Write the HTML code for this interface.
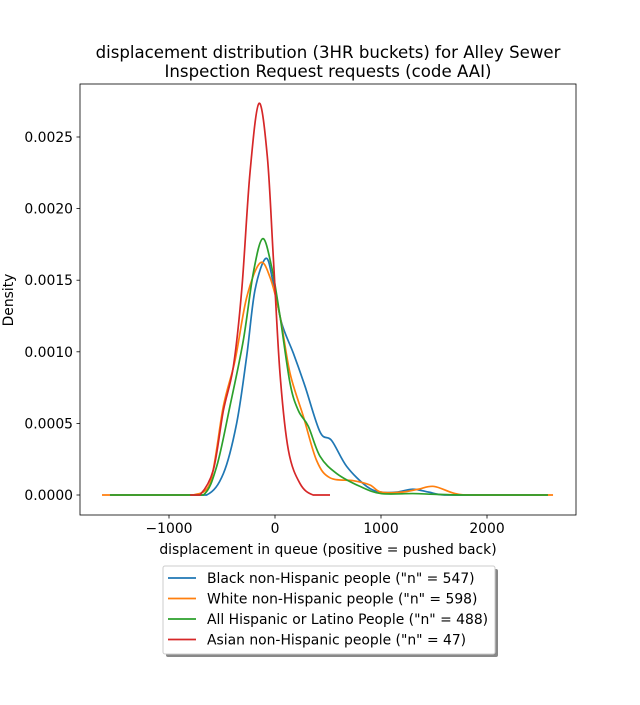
<!DOCTYPE html>
<html><head><meta charset="utf-8"><style>
body{margin:0;background:#fff}
svg text{font-family:"DejaVu Sans","Liberation Sans",sans-serif;fill:#000}
</style></head><body>
<svg width="640" height="700" xmlns="http://www.w3.org/2000/svg">
<g id="plot"></g>
</svg>
<script>
const xTicks=[-1000,0,1000,2000];
const yTicks=[0,0.0005,0.001,0.0015,0.002,0.0025];
const yTickLabels=["0.0000","0.0005","0.0010","0.0015","0.0020","0.0025"];
const seriesNames=['Black non-Hispanic people ("n" = 547)','White non-Hispanic people ("n" = 598)','All Hispanic or Latino People ("n" = 488)','Asian non-Hispanic people ("n" = 47)'];
const blackX=[-1557,-900,-645,-487,-362,-267,-189,-85,-16,63,173,283,425,535,676,865,1000,1150,1300,1450,1600,2000,2575];
const blackY=[0,0,0,0.00015,0.0005,0.00097,0.00143,0.001653,0.00148,0.0012,0.00099,0.00076,0.00044,0.00038,0.0002,0.00006,0.00002,0.00002,0.00004,0.00002,0,0,0];
const whiteX=[-1632,-900,-771,-613,-487,-377,-267,-141,-47,47,142,267,393,519,739,896,1000,1200,1350,1500,1700,1900,2623];
const whiteY=[0,0,0,0.00008,0.00062,0.00094,0.00138,0.00162,0.00152,0.00125,0.00085,0.00055,0.00024,0.00012,0.0001,0.00007,0.00002,0.00002,0.00004,0.00006,0.00001,0,0];
const hispX=[-1557,-900,-676,-550,-425,-299,-205,-116,-31,47,142,220,314,425,582,802,1000,1300,1500,1800,2575];
const hispY=[0,0,0,0.0002,0.00062,0.00108,0.00155,0.00179,0.00159,0.00125,0.00078,0.00059,0.00048,0.00027,0.00015,0.00006,0.00001,0.00001,0.000005,0,0];
const asianX=[-800,-708,-582,-487,-393,-314,-236,-151,-72,-16,47,126,236,360,519];
const asianY=[0,0,0.000175,0.00059,0.000896,0.00143,0.00225,0.002735,0.00236,0.00166,0.00085,0.000314,0.00008,0,0];
const colors=["#1f77b4","#ff7f0e","#2ca02c","#d62728"];
const L=80,R=576,T=84,B=515;
const sx=v=>275+v*0.106;
const sy=d=>495-d*143200;
const NS="http://www.w3.org/2000/svg";
const g=document.getElementById('plot');
function mk(t,a,txt){const e=document.createElementNS(NS,t);for(const k in a)e.setAttribute(k,a[k]);if(txt!==undefined)e.textContent=txt;g.appendChild(e);return e;}
function path(xs,ys){const p=xs.map((x,i)=>[sx(x),sy(ys[i])]);let d="M"+p[0][0]+","+p[0][1];
for(let i=0;i<p.length-1;i++){const p0=p[Math.max(0,i-1)],p1=p[i],p2=p[i+1],p3=p[Math.min(p.length-1,i+2)];
let c1y=p1[1]+(p2[1]-p0[1])/6,c2y=p2[1]-(p3[1]-p1[1])/6;c1y=Math.min(c1y,495);c2y=Math.min(c2y,495);
d+=` C${p1[0]+(p2[0]-p0[0])/6},${c1y} ${p2[0]-(p3[0]-p1[0])/6},${c2y} ${p2[0]},${p2[1]}`;}return d;}
const allX=[blackX,whiteX,hispX,asianX],allY=[blackY,whiteY,hispY,asianY];
allX.forEach((xs,i)=>{const e=mk('path',{d:path(xs,allY[i]),fill:'none',stroke:colors[i],'stroke-width':1.7});

});
const fr=mk('rect',{x:L,y:T,width:R-L,height:B-T,fill:'none',stroke:'#000','stroke-width':0.8});


xTicks.forEach(v=>{mk('line',{x1:sx(v),x2:sx(v),y1:B,y2:B+3.5,stroke:'#000','stroke-width':0.8});
const t=mk('text',{x:sx(v),y:B+18,'text-anchor':'middle','font-size':13.9},v<0?"\u2212"+Math.abs(v):String(v));

});
yTicks.forEach((v,i)=>{mk('line',{x1:L-3.5,x2:L,y1:sy(v),y2:sy(v),stroke:'#000','stroke-width':0.8});
const t=mk('text',{x:L-7,y:sy(v)+5,'text-anchor':'end','font-size':13.9},yTickLabels[i]);

});
let t=mk('text',{x:328,y:554,'text-anchor':'middle','font-size':13.9},'displacement in queue (positive = pushed back)');


t=mk('text',{x:13,y:300,'text-anchor':'middle','font-size':13.9,transform:'rotate(-90 13 300)'},'Density');


t=mk('text',{x:328,y:58,'text-anchor':'middle','font-size':16.6},'displacement distribution (3HR buckets) for Alley Sewer');


t=mk('text',{x:328,y:77,'text-anchor':'middle','font-size':16.6},'Inspection Request requests (code AAI)');


mk('rect',{x:166,y:569,width:332,height:88,rx:2,fill:'#888'});
const lg=mk('rect',{x:163,y:566,width:332,height:88,rx:2,fill:'#fff',stroke:'#ccc'});


seriesNames.forEach((n,i)=>{const y=578+i*20.5;
mk('line',{x1:168,x2:196,y1:y,y2:y,stroke:colors[i],'stroke-width':1.7});
const e=mk('text',{x:207,y:y+5,'font-size':13.9},n);

});
</script>
</body></html>
